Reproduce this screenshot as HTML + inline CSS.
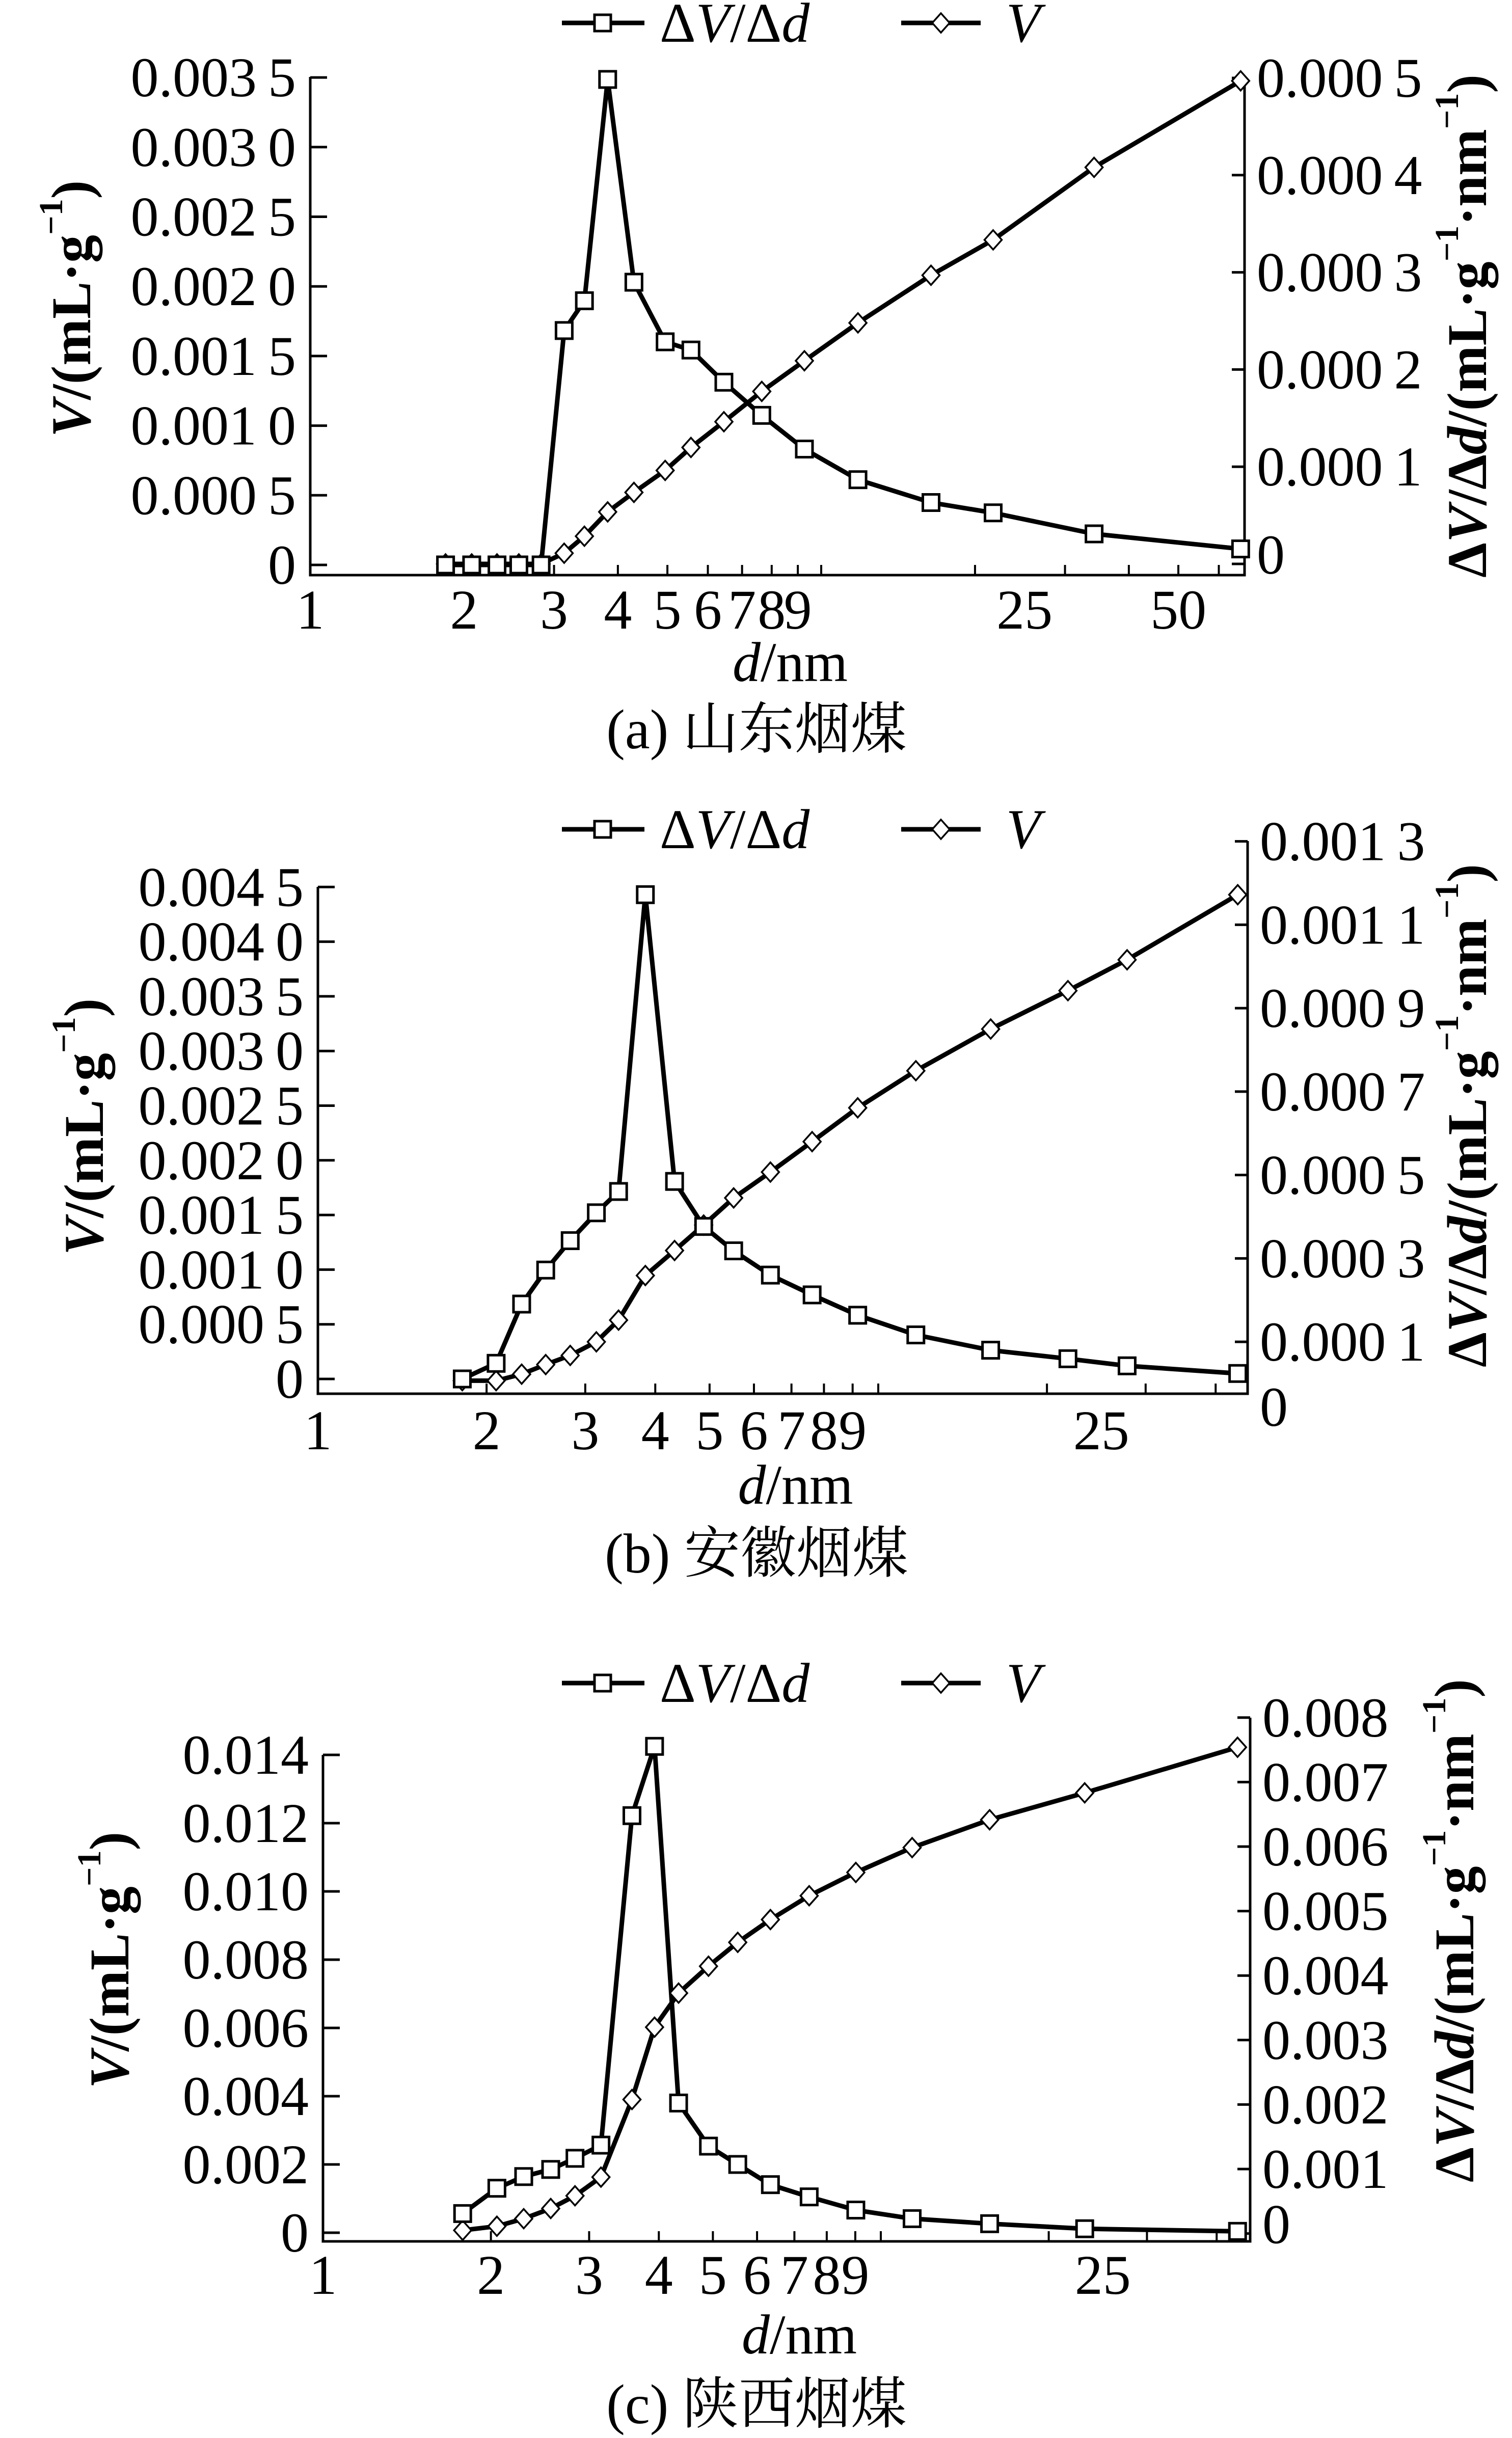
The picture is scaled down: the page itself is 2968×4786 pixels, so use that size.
<!DOCTYPE html>
<html><head><meta charset="utf-8"><style>
html,body{margin:0;padding:0;background:#fff}
svg{display:block}
text{font-family:"Liberation Serif","Noto Serif CJK SC",serif;fill:#000}
</style></head><body>
<svg id="fig" xmlns="http://www.w3.org/2000/svg" width="2968" height="4786" viewBox="0 0 2968 4786"></svg>
<script>
// ---- data (panel a: 山东烟煤) ----
const dA=[1.84,2.07,2.32,2.56,2.83,3.14,3.44,3.82,4.3,4.95,5.56,6.45,7.65,9.27,11.8,16.4,21.7,34.2,66.2];
const sqA=[0,0,0,0,0,0.001683,0.001897,0.003486,0.00203,0.001602,0.001543,0.001312,0.001074,0.000832,0.000612,0.000448,0.000374,0.000223,0.000115];
const dmA=[0,0,0,0,0,0.000011,0.0000285,0.0000535,0.0000736,0.0000962,0.0001198,0.0001463,0.0001775,0.000209,0.000248,0.000297,0.0003334,0.000408,0.000497];
const leftValsA=[0,0.0005,0.001,0.0015,0.002,0.0025,0.003,0.0035];
const leftLabA=["0","0.000\u20095","0.001\u20090","0.001\u20095","0.002\u20090","0.002\u20095","0.003\u20090","0.003\u20095"];
const rightValsA=[0,0.0001,0.0002,0.0003,0.0004,0.0005];
const rightLabA=["0","0.000\u20091","0.000\u20092","0.000\u20093","0.000\u20094","0.000\u20095"];
const xLabA=["1","2","3","4","5","6","7","8","9","25","50"];
const xValA=[1,2,3,4,5,6,7,8,9,25,50];
// ---- data (panel b: 安徽烟煤) ----
const dB=[1.81,2.08,2.31,2.55,2.82,3.14,3.44,3.84,4.33,4.88,5.52,6.42,7.62,9.19,11.67,15.87,21.8,27.8,43.8];
const sqB=[0,0.000143,0.000685,0.000996,0.001265,0.00152,0.001715,0.00443,0.001807,0.001395,0.001172,0.00095,0.000769,0.000583,0.000403,0.000263,0.000185,0.00012,0.00005];
const dmB=[0.0000068,0.0000068,0.0000225,0.0000455,0.0000674,0.0001,0.000152,0.000259,0.000319,0.00038,0.000445,0.000507,0.00058,0.000661,0.00075,0.00085,0.000942,0.001016,0.001172];
const leftValsB=[0,0.0005,0.001,0.0015,0.002,0.0025,0.003,0.0035,0.004,0.0045];
const leftLabB=["0","0.000\u20095","0.001\u20090","0.001\u20095","0.002\u20090","0.002\u20095","0.003\u20090","0.003\u20095","0.004\u20090","0.004\u20095"];
const rightValsB=[0.0001,0.0003,0.0005,0.0007,0.0009,0.0011,0.0013];
const rightLabB=["0.000\u20091","0.000\u20093","0.000\u20095","0.000\u20097","0.000\u20099","0.001\u20091","0.001\u20093"];
const xLabB=["1","2","3","4","5","6","7","8","9","25"];
const xValB=[1,2,3,4,5,6,7,8,9,25];
// ---- data (panel c: 陕西烟煤) ----
const dC=[1.78,2.05,2.29,2.56,2.83,3.15,3.58,3.93,4.34,4.91,5.54,6.34,7.44,9.02,11.38,15.67,23.2,43.6];
const sqC=[0.000561,0.001303,0.001645,0.001854,0.00218,0.002566,0.01222,0.01425,0.0038,0.002537,0.002,0.001408,0.00105,0.000664,0.000412,0.000264,0.000116,0.00004];
const dmC=[0.00005,0.000113,0.00023,0.000388,0.000585,0.000875,0.002078,0.0032,0.003728,0.004145,0.004515,0.004868,0.005238,0.005599,0.005984,0.006416,0.006833,0.00754];
const leftValsC=[0,0.002,0.004,0.006,0.008,0.01,0.012,0.014];
const leftLabC=["0","0.002","0.004","0.006","0.008","0.010","0.012","0.014"];
const rightValsC=[0,0.001,0.002,0.003,0.004,0.005,0.006,0.007,0.008];
const rightLabC=["0","0.001","0.002","0.003","0.004","0.005","0.006","0.007","0.008"];
const xLabC=["1","2","3","4","5","6","7","8","9","25"];
const xValC=[1,2,3,4,5,6,7,8,9,25];

const NS="http://www.w3.org/2000/svg";
const svg=document.getElementById('fig');
function mk(tag,attrs,parent){const e=document.createElementNS(NS,tag);for(const k in attrs)e.setAttribute(k,attrs[k]);(parent||svg).appendChild(e);return e;}

const panels=[
 {id:'a',d:dA,sq:sqA,dm:dmA,lv:leftValsA,ll:leftLabA,rv:rightValsA,rl:rightLabA,xl:xLabA,xv:xValA,
  x0:609,dec:1003,xr:2443,yb:1129,lz:1109,lk:136.7/0.0005,ltop:151,rz:1107,rk:190.8/0.0001,rtop:153,
  leg:45,xly:1197,dny:1300,capy:1432,lt:[140,606],rt:[2880,640],cap:'(a) 山东烟煤'},
 {id:'b',d:dB,sq:sqB,dm:dmB,lv:leftValsB,ll:leftLabB,rv:rightValsB,rl:rightLabB,xl:xLabB,xv:xValB,
  x0:624,dec:1100,xr:2449,yb:2736,lz:2707,lk:107.3/0.0005,ltop:1741,rz:2716,rk:163.75/0.0002,rtop:1651,
  leg:1628,xly:2808,dny:2915,capy:3050,lt:[165,2212],rt:[2880,2190],cap:'(b) 安徽烟煤',zeroR:2762},
 {id:'c',d:dC,sq:sqC,dm:dmC,lv:leftValsC,ll:leftLabC,rv:rightValsC,rl:rightLabC,xl:xLabC,xv:xValC,
  x0:634,dec:1095,xr:2454,yb:4400,lz:4383,lk:134/0.002,ltop:3445,rz:4384.6,rk:126.6/0.001,rtop:3372,
  leg:3304,xly:4466,dny:4583,capy:4720,lt:[215,3848],rt:[2855,3790],cap:'(c) 陕西烟煤'}
];

panels.forEach(p=>{
 const g=mk('g',{});
 
 
 const X=d=>p.x0+p.dec*Math.log10(d);
 const YL=v=>p.lz-v*p.lk;
 const YR=v=>p.rz-v*p.rk;
 const ax=mk('path',{d:`M${p.x0},${p.ltop} V${p.yb} H${p.xr} V${p.rtop}`,fill:'none',stroke:'#000','stroke-width':5},g);
 
 
 const xt=[2,3,4,5,6,7,8,9,10,20,30,40,50,60];
 xt.forEach(t=>{const x=X(t);if(x<p.xr-5){const l=mk('line',{x1:x,x2:x,y1:p.yb,y2:p.yb-20,stroke:'#000','stroke-width':4},g);
  
  }});
 p.xl.forEach((s,i)=>{const t=mk('text',{x:X(p.xv[i]),y:p.xly,'font-size':110,'text-anchor':'middle','dominant-baseline':'central'},g);t.textContent=s;
  
  });
 p.lv.forEach((v,i)=>{const y=YL(v);
  const l=mk('line',{x1:p.x0,x2:p.x0+33,y1:y,y2:y,stroke:'#000','stroke-width':5},g);
  
  
  const t=mk('text',{x:p.x0-28,y:y,'font-size':110,'text-anchor':'end','dominant-baseline':'central'},g);t.textContent=p.ll[i];
  
  });
 p.rv.forEach((v,i)=>{const y=YR(v);
  const l=mk('line',{x1:p.xr,x2:p.xr-25,y1:y,y2:y,stroke:'#000','stroke-width':5},g);
  
  
  const t=mk('text',{x:p.xr+24,y:(v===0?y-18:y),'font-size':110,'dominant-baseline':'central'},g);t.textContent=p.rl[i];
  
  });
 if(p.zeroR){const t=mk('text',{x:p.xr+24,y:p.zeroR,'font-size':110,'dominant-baseline':'central'},g);t.textContent='0';
  
  }
 const sqPts=p.d.map((d,i)=>[X(d),YL(p.sq[i])]);
 const dmPts=p.d.map((d,i)=>[X(d),YR(p.dm[i])]);
 const l1=mk('polyline',{points:sqPts.map(q=>q.join(',')).join(' '),fill:'none',stroke:'#000','stroke-width':9,'stroke-linejoin':'round'},g);
 
 
 const l2=mk('polyline',{points:dmPts.map(q=>q.join(',')).join(' '),fill:'none',stroke:'#000','stroke-width':9,'stroke-linejoin':'round'},g);
 
 
 dmPts.forEach(q=>{const m=mk('polygon',{points:`${q[0]},${q[1]-19} ${q[0]+17},${q[1]} ${q[0]},${q[1]+19} ${q[0]-17},${q[1]}`,fill:'#fff',stroke:'#000','stroke-width':3.5},g);
  
  });
 sqPts.forEach(q=>{const m=mk('rect',{x:q[0]-16,y:q[1]-16,width:32,height:32,fill:'#fff',stroke:'#000','stroke-width':5},g);
  
  });
 const lg=mk('g',{},g);
 
 
 mk('line',{x1:1103,x2:1265,y1:p.leg,y2:p.leg,stroke:'#000','stroke-width':9},lg);
 mk('rect',{x:1167,y:p.leg-16,width:32,height:32,fill:'#fff',stroke:'#000','stroke-width':5},lg);
 const t1=mk('text',{x:1295,y:p.leg,'font-size':110,'dominant-baseline':'central'},lg);
 t1.innerHTML='Δ<tspan font-style="italic">V</tspan>/Δ<tspan font-style="italic">d</tspan>';
 
 
 mk('line',{x1:1769,x2:1925,y1:p.leg,y2:p.leg,stroke:'#000','stroke-width':9},lg);
 mk('polygon',{points:`1847,${p.leg-19} 1864,${p.leg} 1847,${p.leg+19} 1830,${p.leg}`,fill:'#fff',stroke:'#000','stroke-width':3.5},lg);
 const t2=mk('text',{x:1975,y:p.leg,'font-size':110,'font-style':'italic','dominant-baseline':'central'},lg);
 t2.textContent='V';
 
 
 const xt2=mk('text',{x:(p.x0+p.xr)/2+25,y:p.dny,'font-size':110,'text-anchor':'middle','dominant-baseline':'central'},g);
 xt2.innerHTML='<tspan font-style="italic">d</tspan>/nm';
 
 
 const ly=mk('text',{x:0,y:0,'font-size':110,'font-weight':'bold','text-anchor':'middle','dominant-baseline':'central',transform:`translate(${p.lt[0]},${p.lt[1]}) rotate(-90)`},g);
 ly.innerHTML='<tspan font-style="italic">V</tspan>/(mL·g<tspan font-size="66" dy="-40">−1</tspan><tspan dy="40">)</tspan>';
 
 
 const ry=mk('text',{x:0,y:0,'font-size':110,'font-weight':'bold','text-anchor':'middle','dominant-baseline':'central',transform:`translate(${p.rt[0]},${p.rt[1]}) rotate(-90)`},g);
 ry.innerHTML='Δ<tspan font-style="italic">V</tspan>/Δ<tspan font-style="italic">d</tspan>/(mL·g<tspan font-size="66" dy="-40">−1</tspan><tspan dy="40">·nm</tspan><tspan font-size="66" dy="-40">−1</tspan><tspan dy="40">)</tspan>';
 
 
 const cp=mk('text',{x:1485,y:p.capy,'font-size':110,'text-anchor':'middle','dominant-baseline':'central'},g);
 cp.textContent=p.cap;
 
 
});
</script>
</body></html>
